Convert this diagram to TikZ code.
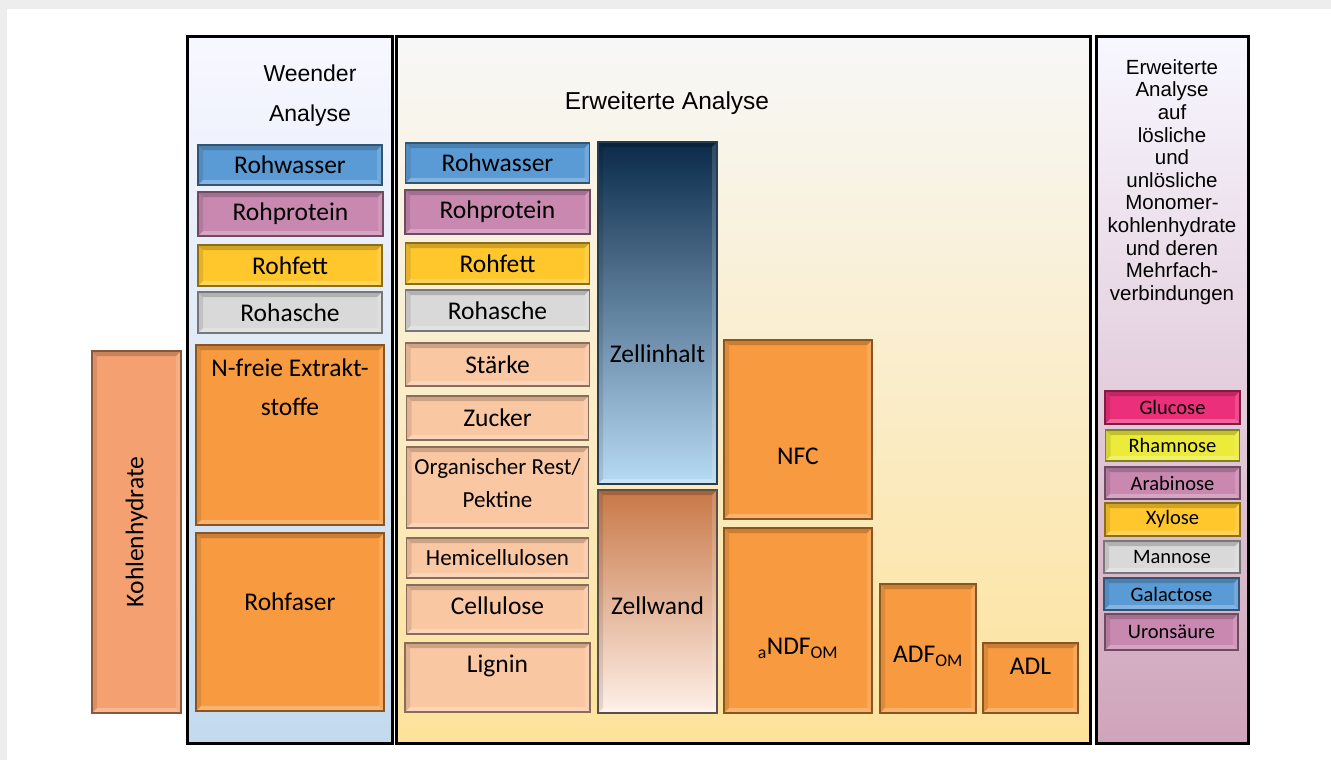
\documentclass[tikz,border=0pt]{standalone}
\usepackage{fontspec}
\setmainfont{Carlito}
\newfontfamily\arialfont{Liberation Sans}
\usetikzlibrary{positioning}

\definecolor{wasserblue}{HTML}{5B9BD5}
\definecolor{proteinpink}{HTML}{C888B0}
\definecolor{fettyellow}{HTML}{FFC72C}
\definecolor{aschegray}{HTML}{D9D9D9}
\definecolor{faserorange}{HTML}{F79A40}
\definecolor{restpeach}{HTML}{FAC7A3}
\definecolor{khsalmon}{HTML}{F5A070}
\definecolor{glucpink}{HTML}{EC2F7A}
\definecolor{rhamyellow}{HTML}{EDEB3A}

\tikzset{
  bevel/.style={path picture={
    \fill[black, opacity=.18] (path picture bounding box.north west) -- (path picture bounding box.north east)
      -- ([xshift=-5pt, yshift=-5pt]path picture bounding box.north east) -- ([xshift=5pt, yshift=-5pt]path picture bounding box.north west) -- cycle;
    \fill[black, opacity=.10] (path picture bounding box.north west) -- ([xshift=5pt, yshift=-5pt]path picture bounding box.north west)
      -- ([xshift=5pt, yshift=5pt]path picture bounding box.south west) -- (path picture bounding box.south west) -- cycle;
    \fill[white, opacity=.25] (path picture bounding box.south west) -- ([xshift=5pt, yshift=5pt]path picture bounding box.south west)
      -- ([xshift=-5pt, yshift=5pt]path picture bounding box.south east) -- (path picture bounding box.south east) -- cycle;
    \fill[white, opacity=.15] (path picture bounding box.north east) -- ([xshift=-5pt, yshift=-5pt]path picture bounding box.north east)
      -- ([xshift=-5pt, yshift=5pt]path picture bounding box.south east) -- (path picture bounding box.south east) -- cycle;
  }},
  cell/.style={draw=#1!55!black, fill=#1, line width=1.2pt, inner sep=0pt, bevel,
    font=\fontsize{25.5}{30}\selectfont, align=center},
  sz/.style 2 args={minimum width=#1pt, minimum height=#2pt},
  sugar/.style={cell=#1, font=\fontsize{20.5}{24}\selectfont},
  panel/.style={draw=black, line width=3pt, shading=axis},
  every label/.style={font=\fontsize{25.5}{30}\selectfont, align=center, inner sep=0pt},
  head/.style={font=\arialfont\fontsize{23}{40}\selectfont, align=center}
}

\begin{document}
\begin{tikzpicture}[x=1pt, y=-1pt]
  \useasboundingbox (0,0) rectangle (1331,760);
  \fill[gray!14] (0,0) rectangle (1331,760);
  \fill[white] (7,9) rectangle (1331,760);

  % panels
  \node[panel, top color=blue!3, bottom color={rgb,255:red,195;green,218;blue,238}, sz={205}{706}] (weender) at (289.5,390) {};
  \node[panel, top color=gray!6, bottom color={rgb,255:red,253;green,226;blue,154}, sz={694}{706}] (erweitert) at (743,390) {};
  \node[panel, top color=blue!3, bottom color={rgb,255:red,207;green,164;blue,186}, sz={152}{706}] (mono) at (1172,390) {};

  \node[head] (weendertitle) at (310,96) {Weender\\Analyse};
  \node[head, font=\arialfont\fontsize{24.5}{30}\selectfont] (erwtitle) at (667,103) {Erweiterte Analyse};
  \node[font=\arialfont\fontsize{20.5}{22.6}\selectfont, align=center] (monotitle) at (1172,182)
    {Erweiterte\\Analyse\\auf\\lösliche\\und\\unlösliche\\Monomer-\\kohlenhydrate\\und deren\\Mehrfach-\\verbindungen};

  % Kohlenhydrate
  \node[cell=khsalmon, sz={89}{362}, label={[rotate=90]center:Kohlenhydrate}] (kh) at (136.5,532) {};

  % Weender Analyse
  \node[cell=wasserblue, sz={184}{40}] (wwasser) at (290,165) {Rohwasser};
  \node[cell=proteinpink, sz={185}{44}] (wprotein) at (290.5,214) {Rohprotein};
  \node[cell=fettyellow, sz={184}{41}] (wfett) at (290,265.5) {Rohfett};
  \node[cell=aschegray, sz={184}{41}] (wasche) at (290,312.5) {Rohasche};
  \node[cell=faserorange, sz={188}{180},
    label={[anchor=north, yshift=-14pt, font=\fontsize{25.5}{39}\selectfont]north:N-freie Extrakt-\\stoffe}] (wnfe) at (290,435) {};
  \node[cell=faserorange, sz={188}{178}, label={[yshift=20pt]center:Rohfaser}] (wfaser) at (290,622) {};

  % Erweiterte Analyse
  \node[cell=wasserblue, sz={184}{40}] (ewasser) at (497.5,163) {Rohwasser};
  \node[cell=proteinpink, sz={185}{44}] (eprotein) at (497.5,212) {Rohprotein};
  \node[cell=fettyellow, sz={184}{41}] (efett) at (497.5,263.5) {Rohfett};
  \node[cell=aschegray, sz={184}{41}] (easche) at (497.5,310.5) {Rohasche};
  \node[cell=restpeach, sz={184}{43}] (staerke) at (497.5,364.5) {Stärke};
  \node[cell=restpeach, sz={182}{44}] (zucker) at (497.5,418) {Zucker};
  \node[cell=restpeach, sz={182}{81}, font=\fontsize{23}{33}\selectfont,
    label={[yshift=4pt, font=\fontsize{23}{33}\selectfont]center:Organischer Rest/\\Pektine}] (orgrest) at (497.5,487.5) {};
  \node[cell=restpeach, sz={182}{40}, font=\fontsize{23}{27}\selectfont] (hemi) at (497.5,558) {Hemicellulosen};
  \node[cell=restpeach, sz={182}{49}, label={[yshift=4pt]center:Cellulose}] (cellulose) at (497.5,609.5) {};
  \node[cell=restpeach, sz={185}{69}, label={[yshift=12pt]center:Lignin}] (lignin) at (497.5,677.5) {};

  \node[cell=wasserblue, draw={rgb,255:red,40;green,60;blue,80}, top color={rgb,255:red,11;green,42;blue,74},
    bottom color={rgb,255:red,184;green,219;blue,245}, sz={119}{342}, label={[yshift=-41pt]center:Zellinhalt}] (zellinhalt) at (657.5,313) {};
  \node[cell=restpeach, draw={rgb,255:red,90;green,80;blue,75}, top color={rgb,255:red,200;green,120;blue,72},
    bottom color={rgb,255:red,254;green,240;blue,232}, sz={119}{223}, label={[yshift=-4pt]center:Zellwand}] (zellwand) at (657.5,601.5) {};

  \node[cell=faserorange, sz={148}{179}, label={[yshift=-27pt]center:NFC}] (nfc) at (798,429.5) {};
  \node[cell=faserorange, sz={148}{185}, label={[yshift=-28pt]center:\textsubscript{a}NDF\textsubscript{OM}}] (andf) at (798,620.5) {};
  \node[cell=faserorange, sz={96}{129}, label={[yshift=-8pt]center:ADF\textsubscript{OM}}] (adf) at (928,648.5) {};
  \node[cell=faserorange, sz={95}{70}, label={[yshift=12pt]center:ADL}] (adl) at (1030.5,678) {};

  % Monomere
  \node[sugar=glucpink, sz={135}{33}] (glucose) at (1172.5,407.5) {Glucose};
  \node[sugar=rhamyellow, sz={134}{31}] (rhamnose) at (1172.5,445.5) {Rhamnose};
  \node[sugar=proteinpink, sz={135}{32}] (arabinose) at (1172.5,483) {Arabinose};
  \node[sugar=fettyellow, sz={135}{33}] (xylose) at (1172.5,519.5) {Xylose};
  \node[sugar=aschegray, sz={136}{32}] (mannose) at (1172,557) {Mannose};
  \node[sugar=wasserblue, sz={135}{32}] (galactose) at (1171.5,594) {Galactose};
  \node[sugar=proteinpink, sz={133}{36}] (uron) at (1171.5,632) {Uronsäure};
\end{tikzpicture}
\end{document}
